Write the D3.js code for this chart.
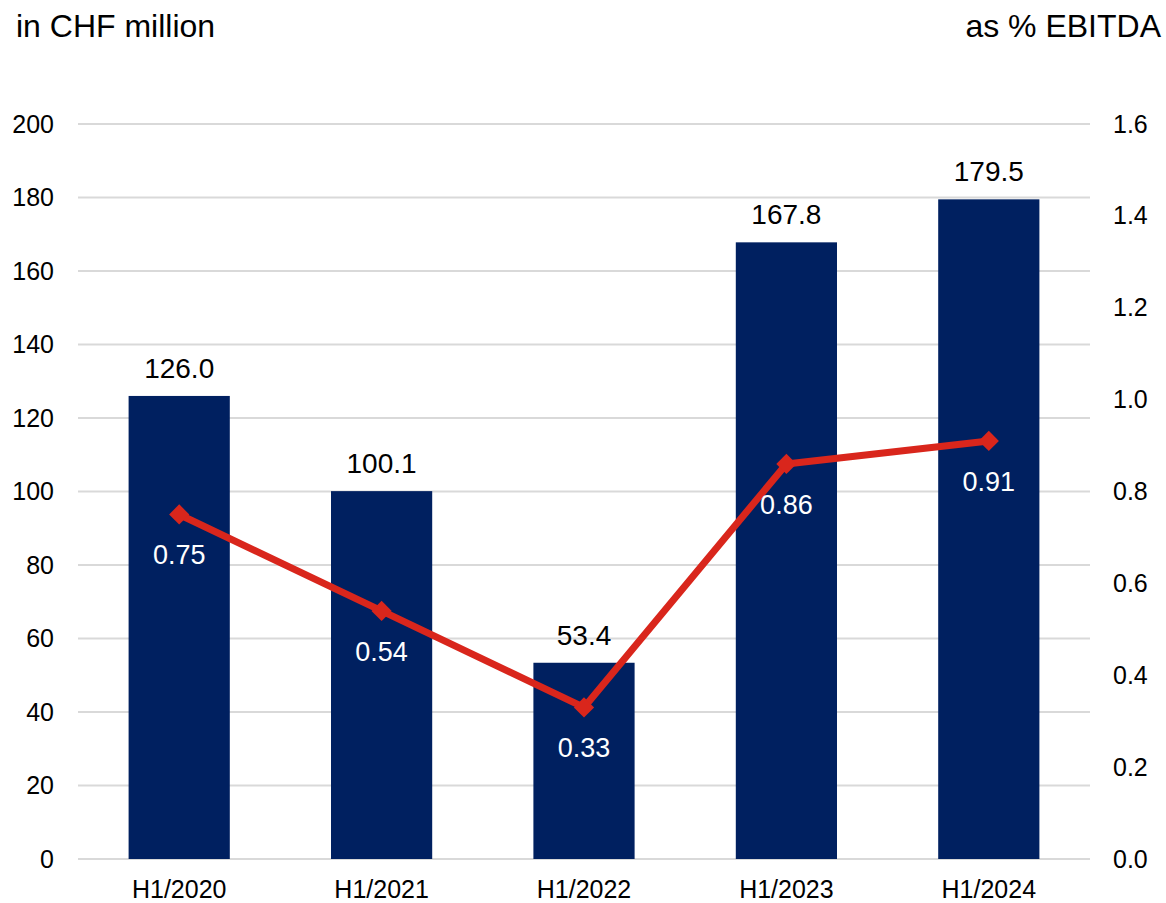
<!DOCTYPE html>
<html>
<head>
<meta charset="utf-8">
<script src="https://cdn.jsdelivr.net/npm/d3@7"></script>
<style>
  body { margin: 0; background: #fff; }
  text { font-family: "Liberation Sans", Arial, sans-serif; }
</style>
</head>
<body>
<svg id="chart" width="1166" height="903"></svg>
<script>
var periods = ['H1/2020', 'H1/2021', 'H1/2022', 'H1/2023', 'H1/2024'];
var amounts = [126.0, 100.1, 53.4, 167.8, 179.5];
var ratios = [0.75, 0.54, 0.33, 0.86, 0.91];
var leftTicks = [0, 20, 40, 60, 80, 100, 120, 140, 160, 180, 200];
var rightTicks = [0, 0.2, 0.4, 0.6, 0.8, 1.0, 1.2, 1.4, 1.6];

var svg = d3.select('#chart'),
    margin = {top: 124, right: 76, bottom: 44, left: 78},
    width = 1166 - margin.left - margin.right,
    height = 903 - margin.top - margin.bottom,
    g = svg.append('g').attr('transform', 'translate(' + margin.left + ',' + margin.top + ')');

var x = d3.scaleBand().domain(periods).range([0, width]).paddingInner(0.5).paddingOuter(0.25);
var y = d3.scaleLinear().domain([0, 200]).range([height, 0]);
var y2 = d3.scaleLinear().domain([0, 1.6]).range([height, 0]);

// gridlines
g.append('g')
    .selectAll('line')
    .data(leftTicks)
    .enter().append('line')
    .attr('x1', 0).attr('x2', width)
    .attr('y1', function (d) { return y(d); })
    .attr('y2', function (d) { return y(d); })
    .attr('stroke', '#d9d9d9')
    .attr('stroke-width', 2);

// left axis
var la = g.append('g')
    .call(d3.axisLeft(y).tickValues(leftTicks).tickSize(0).tickPadding(24));
la.select('.domain').remove();
la.selectAll('text').attr('font-size', 25).attr('fill', '#000');

// right axis
var ra = g.append('g')
    .attr('transform', 'translate(' + width + ',0)')
    .call(d3.axisRight(y2).tickValues(rightTicks).tickSize(0).tickPadding(23).tickFormat(d3.format('.1f')));
ra.select('.domain').remove();
ra.selectAll('text').attr('font-size', 25).attr('fill', '#000');

// bottom axis
var ba = g.append('g')
    .attr('transform', 'translate(0,' + height + ')')
    .call(d3.axisBottom(x).tickSize(0).tickPadding(21));
ba.select('.domain').remove();
ba.selectAll('text').attr('font-size', 25).attr('fill', '#000');

// bars
g.selectAll('.bar')
    .data(amounts)
    .enter().append('rect')
    .attr('x', function (d, i) { return x(periods[i]); })
    .attr('y', function (d) { return y(d); })
    .attr('width', x.bandwidth())
    .attr('height', function (d) { return height - y(d); })
    .attr('fill', '#002060');

g.selectAll('.barlabel')
    .data(amounts)
    .enter().append('text')
    .attr('x', function (d, i) { return x(periods[i]) + x.bandwidth() / 2; })
    .attr('y', function (d) { return y(d) - 18; })
    .attr('text-anchor', 'middle')
    .attr('font-size', 28)
    .attr('fill', '#000')
    .text(function (d) { return d.toFixed(1); });

// line
var line = d3.line()
    .x(function (d, i) { return x(periods[i]) + x.bandwidth() / 2; })
    .y(function (d) { return y2(d); });

g.append('path')
    .datum(ratios)
    .attr('d', line)
    .attr('fill', 'none')
    .attr('stroke', '#d9261c')
    .attr('stroke-width', 7)
    .attr('stroke-linejoin', 'round');

g.selectAll('.marker')
    .data(ratios)
    .enter().append('path')
    .attr('d', d3.symbol().type(d3.symbolDiamond2).size(260))
    .attr('transform', function (d, i) {
        return 'translate(' + (x(periods[i]) + x.bandwidth() / 2) + ',' + y2(d) + ')';
    })
    .attr('fill', '#d9261c');

g.selectAll('.linelabel')
    .data(ratios)
    .enter().append('text')
    .attr('x', function (d, i) { return x(periods[i]) + x.bandwidth() / 2; })
    .attr('y', function (d) { return y2(d) + 50; })
    .attr('text-anchor', 'middle')
    .attr('font-size', 27)
    .attr('fill', '#fff')
    .text(function (d) { return d.toFixed(2); });

// axis titles
svg.append('text')
    .attr('x', 16).attr('y', 37)
    .attr('font-size', 32)
    .text('in CHF million');

svg.append('text')
    .attr('x', 1161).attr('y', 37)
    .attr('text-anchor', 'end')
    .attr('font-size', 32)
    .text('as % EBITDA');
</script>
</body>
</html>
